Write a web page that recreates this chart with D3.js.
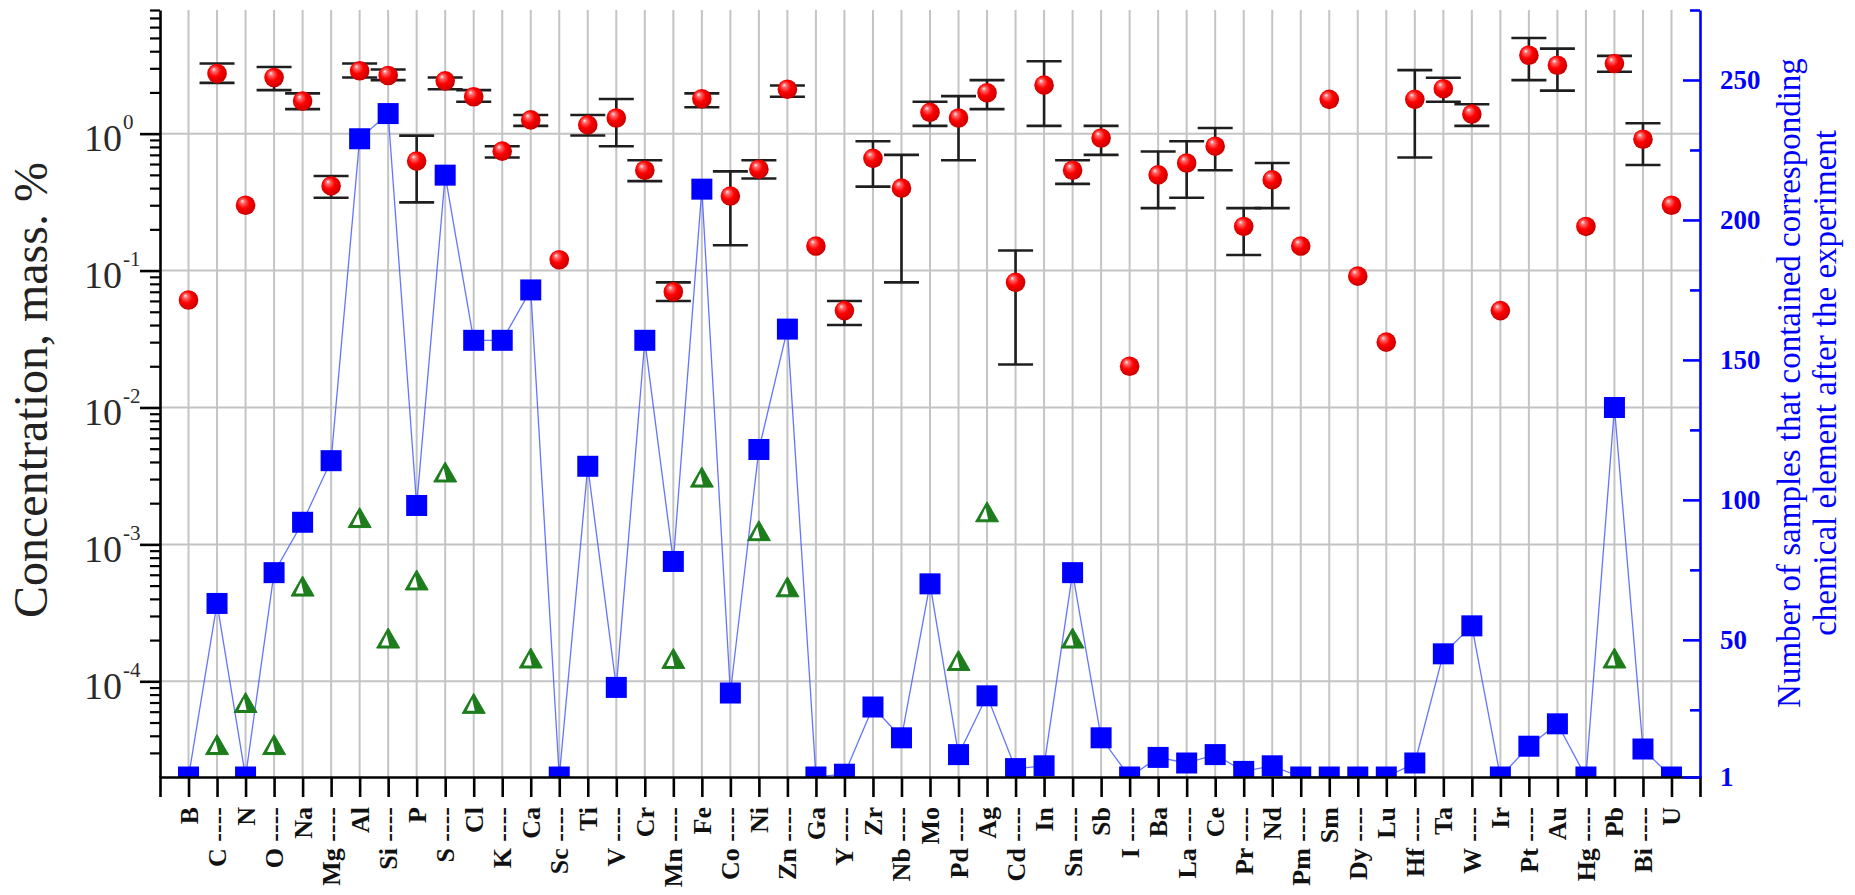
<!DOCTYPE html>
<html>
<head>
<meta charset="utf-8">
<script src="https://cdn.jsdelivr.net/npm/d3@7"></script>
<style>
  html, body { margin: 0; padding: 0; background: #fff; }
  svg { display: block; }
</style>
</head>
<body>
<script>
// ---------- data ----------
const elements = ["B","C","N","O","Na","Mg","Al","Si","P","S","Cl","K","Ca","Sc","Ti","V","Cr","Mn","Fe","Co","Ni","Zn","Ga","Y","Zr","Nb","Mo","Pd","Ag","Cd","In","Sn","Sb","I","Ba","La","Ce","Pr","Nd","Pm","Sm","Dy","Lu","Hf","Ta","W","Ir","Pt","Au","Hg","Pb","Bi","U"];

const concentration = [0.061,2.75,0.30,2.57,1.73,0.415,2.88,2.66,0.63,2.43,1.86,0.745,1.26,0.12,1.16,1.30,0.54,0.07,1.80,0.35,0.55,2.11,0.151,0.051,0.66,0.40,1.43,1.30,1.99,0.082,2.26,0.54,0.93,0.020,0.50,0.61,0.81,0.21,0.46,0.151,1.78,0.091,0.030,1.78,2.13,1.39,0.051,3.74,3.16,0.21,3.25,0.91,0.30];

const errUpper = [null,3.25,null,3.07,1.97,0.49,3.25,2.94,0.967,2.57,2.08,0.81,1.37,null,1.37,1.79,0.64,0.082,1.97,0.53,0.64,2.25,null,0.06,0.88,0.70,1.71,1.88,2.46,0.14,3.38,0.64,1.14,null,0.74,0.88,1.10,0.286,0.61,null,null,null,null,2.91,2.56,1.64,null,5.0,4.18,null,3.7,1.19,null];

const errLower = [null,2.35,null,2.08,1.51,0.34,2.57,2.46,0.315,2.11,1.71,0.67,1.14,null,0.97,0.81,0.45,0.06,1.56,0.153,0.47,1.86,null,0.04,0.41,0.082,1.14,0.64,1.51,0.0206,1.14,0.43,0.70,null,0.286,0.34,0.54,0.13,0.286,null,null,null,null,0.67,1.71,1.14,null,2.46,2.06,null,2.83,0.59,null];

const sampleCount = [1,63,1,74,92,114,229,238,98,216,157,157,175,1,112,33,157,78,211,31,118,161,1,2,26,15,70,9,30,4,5,74,15,1,8,6,9,3,5,1,1,1,1,6,45,55,1,12,20,1,133,11,1];

const lowConcentration = [null,3.45e-5,7e-5,3.45e-5,4.96e-4,null,1.57e-3,2.07e-4,5.5e-4,3.38e-3,6.9e-5,null,1.48e-4,null,null,null,null,1.47e-4,3.1e-3,null,1.26e-3,4.9e-4,null,null,null,null,null,1.42e-4,1.73e-3,null,null,2.07e-4,null,null,null,null,null,null,null,null,null,null,null,null,null,null,null,null,null,null,1.48e-4,null,null];

const leftMajorTicks = [1e-4,1e-3,1e-2,1e-1,1];
const leftExponents = ["-4","-3","-2","-1","0"];
const rightMajorTicks = [1,50,100,150,200,250];
const rightMinorTicks = [25,75,125,175,225,275];

const leftTitle = "Concentration, mass. %";
const rightTitleLines = ["Number of samples that contained corresponding", "chemical element after the experiment"];

// ---------- layout ----------
const W = 1855, H = 895;
const X0 = 160, X1 = 1700, Y0 = 10, Y1 = 777;
const serif = "'Liberation Serif','Times New Roman',serif";

const svg = d3.select("body").append("svg").attr("width", W).attr("height", H);
svg.append("rect").attr("width", W).attr("height", H).attr("fill", "#fff");

const defs = svg.append("defs");
const grad = defs.append("radialGradient").attr("id", "ball")
  .attr("cx", "45%").attr("cy", "45%").attr("r", "60%").attr("fx", "33%").attr("fy", "28%");
grad.append("stop").attr("offset", "0%").attr("stop-color", "#fff4f4");
grad.append("stop").attr("offset", "18%").attr("stop-color", "#ff6a6a");
grad.append("stop").attr("offset", "50%").attr("stop-color", "#ff0000");
grad.append("stop").attr("offset", "100%").attr("stop-color", "#c00000");
defs.append("clipPath").attr("id", "plotclip").append("rect")
  .attr("x", X0).attr("y", Y0).attr("width", X1 - X0).attr("height", Y1 - Y0);

const x = d3.scalePoint().domain(elements).range([X0, X1]).padding(1);
const yL = d3.scaleLog().domain([2e-5, 8]).range([Y1, Y0]);
const yR = d3.scaleLinear().domain([1, 275]).range([Y1, Y0]);

// ---------- grid ----------
const grid = svg.append("g").attr("stroke", "#c4c4c4").attr("stroke-width", 2);
grid.selectAll("line.v").data(elements).join("line")
  .attr("x1", d => x(d)).attr("x2", d => x(d)).attr("y1", Y0).attr("y2", Y1);
grid.selectAll("line.h").data(leftMajorTicks).join("line")
  .attr("x1", X0).attr("x2", X1).attr("y1", d => yL(d)).attr("y2", d => yL(d));

// ---------- count series (right axis) ----------
const plot = svg.append("g").attr("clip-path", "url(#plotclip)");
const line = d3.line().x((d, i) => x(elements[i])).y(d => yR(d));
plot.append("path").datum(sampleCount).attr("d", line)
  .attr("fill", "none").attr("stroke", "#4a5cff").attr("stroke-width", 1.3).attr("opacity", 0.85);

// triangles
const tri = svg.append("g");
const triData = lowConcentration.map((v, i) => ({v, el: elements[i]})).filter(d => d.v != null);
tri.selectAll("path.outer").data(triData).join("path")
  .attr("d", d => { const cx = x(d.el), cy = yL(d.v);
    return `M${cx},${cy-10}L${cx+11.5},${cy+10}L${cx-11.5},${cy+10}Z`; })
  .attr("fill", "#1d7d1d").attr("stroke", "#1d7d1d").attr("stroke-width", 1);
tri.selectAll("path.inner").data(triData).join("path")
  .attr("d", d => { const cx = x(d.el), cy = yL(d.v);
    return `M${cx-1.5},${cy-4}L${cx+1},${cy+7.5}L${cx-7},${cy+7.5}Z`; })
  .attr("fill", "#ffffff");

plot.selectAll("rect.sq").data(sampleCount).join("rect")
  .attr("x", (d, i) => x(elements[i]) - 10.5).attr("y", d => yR(d) - 10.5)
  .attr("width", 21).attr("height", 21).attr("fill", "#0000ff");

// ---------- error bars ----------
const eb = svg.append("g").attr("stroke", "#1e1e1e").attr("stroke-width", 2.6);
const ebData = elements.map((el, i) => ({el, hi: errUpper[i], lo: errLower[i]})).filter(d => d.hi != null);
eb.selectAll("line.stem").data(ebData).join("line")
  .attr("x1", d => x(d.el)).attr("x2", d => x(d.el)).attr("y1", d => yL(d.hi)).attr("y2", d => yL(d.lo));
eb.selectAll("line.top").data(ebData).join("line")
  .attr("x1", d => x(d.el) - 17.5).attr("x2", d => x(d.el) + 17.5).attr("y1", d => yL(d.hi)).attr("y2", d => yL(d.hi));
eb.selectAll("line.bot").data(ebData).join("line")
  .attr("x1", d => x(d.el) - 17.5).attr("x2", d => x(d.el) + 17.5).attr("y1", d => yL(d.lo)).attr("y2", d => yL(d.lo));

// ---------- circles ----------
svg.append("g").selectAll("circle").data(concentration).join("circle")
  .attr("cx", (d, i) => x(elements[i])).attr("cy", d => yL(d)).attr("r", 9.8)
  .attr("fill", "url(#ball)");

// ---------- axes ----------
// bottom
const xAxis = svg.append("g").attr("transform", `translate(0,${Y1})`)
  .call(d3.axisBottom(x).tickSize(20).tickSizeOuter(20).tickFormat(""));
xAxis.select(".domain").attr("stroke", "#000").attr("stroke-width", 2.6);
xAxis.selectAll(".tick line").attr("stroke", "#000").attr("stroke-width", 2.6);
xAxis.selectAll(".tick").append("text")
  .attr("transform", "translate(8.5,30) rotate(-90)")
  .attr("text-anchor", "end")
  .attr("fill", "#111")
  .style("font-family", serif).style("font-size", "26px").style("font-weight", "bold")
  .text((d, i) => i % 2 === 1 ? d + " ----" : d);

// left major
const yAxisMaj = svg.append("g").attr("transform", `translate(${X0},0)`)
  .call(d3.axisLeft(yL).tickValues(leftMajorTicks).tickSize(20).tickSizeOuter(0).tickFormat(""));
yAxisMaj.select(".domain").attr("stroke", "#000").attr("stroke-width", 2.6);
yAxisMaj.selectAll(".tick line").attr("stroke", "#000").attr("stroke-width", 2.6);
yAxisMaj.selectAll(".tick").each(function(d, i) {
  const g = d3.select(this);
  g.append("text").attr("x", -38).attr("y", 17).attr("text-anchor", "end")
    .attr("fill", "#2a2a2a").style("font-family", serif).style("font-size", "38px").text("10");
  g.append("text").attr("x", -37).attr("y", -5).attr("text-anchor", "start")
    .attr("fill", "#2a2a2a").style("font-family", serif).style("font-size", "21px").text(leftExponents[i]);
});
// left minor
const minorVals = [];
for (let e = -5; e <= 0; e++) for (let k = 2; k <= 9; k++) {
  const v = k * Math.pow(10, e);
  if (v > 2.01e-5 && v <= 8.01) minorVals.push(v);
}
const yAxisMin = svg.append("g").attr("transform", `translate(${X0},0)`)
  .call(d3.axisLeft(yL).tickValues(minorVals).tickSize(10).tickSizeOuter(0).tickFormat(""));
yAxisMin.select(".domain").remove();
yAxisMin.selectAll(".tick line").attr("stroke", "#000").attr("stroke-width", 2.2);

// right axis
const rAxis = svg.append("g").attr("transform", `translate(${X1},0)`)
  .call(d3.axisRight(yR).tickValues(rightMajorTicks).tickSize(-17).tickSizeOuter(0).tickPadding(20));
rAxis.select(".domain").attr("stroke", "#0000ff").attr("stroke-width", 2.6);
rAxis.selectAll(".tick line").attr("stroke", "#0000ff").attr("stroke-width", 2.6);
rAxis.selectAll(".tick text").attr("fill", "#0000ff")
  .style("font-family", serif).style("font-size", "27px").style("font-weight", "bold");
const rAxisMin = svg.append("g").attr("transform", `translate(${X1},0)`)
  .call(d3.axisRight(yR).tickValues(rightMinorTicks).tickSize(-10).tickSizeOuter(0).tickFormat(""));
rAxisMin.select(".domain").remove();
rAxisMin.selectAll(".tick line").attr("stroke", "#0000ff").attr("stroke-width", 2.6);

// titles
svg.append("text").attr("transform", "translate(47,390) rotate(-90)")
  .attr("text-anchor", "middle").attr("fill", "#222")
  .style("font-family", serif).style("font-size", "48px").text(leftTitle);
svg.selectAll("text.rt").data(rightTitleLines).join("text")
  .attr("transform", (d, i) => `translate(${1800 + i * 36},383) rotate(-90)`)
  .attr("text-anchor", "middle").attr("fill", "#0000ff")
  .style("font-family", serif).style("font-size", "33px").text(d => d);
</script>
</body>
</html>
